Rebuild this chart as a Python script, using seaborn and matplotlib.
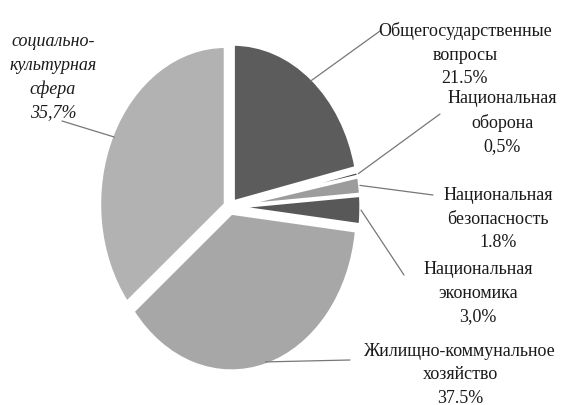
import numpy as np
import matplotlib
matplotlib.use("Agg")
import matplotlib.pyplot as plt
import seaborn as sns

# --- Data ---
categories = [
    "Общегосударственные\nвопросы",
    "Национальная\nоборона",
    "Национальная\nбезопасность",
    "Национальная\nэкономика",
    "Жилищно-коммунальное\nхозяйство",
    "социально-\nкультурная\nсфера",
]
shares = [21.5, 0.5, 1.8, 3.0, 37.5, 35.7]
share_labels = ["21.5%", "0,5%", "1.8%", "3,0%", "37.5%", "35,7%"]
colors = ["#5c5c5c", "#484848", "#9c9c9c", "#585858", "#a7a7a7", "#b2b2b2"]

# label centres (pixels, top-left origin) and where the leader line ends
label_pos = [(465, 22), (502, 90), (498, 187), (478, 261), (460, 343), (53, 33)]
line_end = [(380, 32), (440, 115), (433, 196), (404, 276), (350, 361), (62, 122)]

sns.set_theme(style="white")
plt.rcParams["font.family"] = ["Liberation Serif", "DejaVu Serif"]

W, H = 561, 406
fig = plt.figure(figsize=(W / 100, H / 100), dpi=100)
ax = fig.add_axes([0, 0, 1, 1])

wedges, _ = ax.pie(
    shares,
    colors=colors,
    startangle=90,
    counterclock=False,
    explode=[0.04] * len(shares),
    wedgeprops=dict(edgecolor="white", linewidth=2.5),
)

# the scanned pie is stretched vertically
sx, sy = 126, 158
cx, cy = 230, 208
ax.set_aspect("auto")
ax.set_xlim(-cx / sx, (W - cx) / sx)
ax.set_ylim(-(H - cy) / sy, cy / sy)
ax.axis("off")


def px(p):
    return p[0] / W, 1 - p[1] / H


for i, w in enumerate(wedges):
    ang = np.deg2rad((w.theta1 + w.theta2) / 2)
    r = 0.98 if shares[i] > 5 else 1.0
    cxw, cyw = w.center
    start = (cxw + r * np.cos(ang), cyw + r * np.sin(ang))
    ax.annotate(
        "",
        xy=start,
        xytext=px(line_end[i]),
        textcoords="axes fraction",
        arrowprops=dict(arrowstyle="-", color="#777777", lw=0.9, shrinkA=0, shrinkB=0),
    )
    italic = i == len(wedges) - 1
    ax.text(
        *px(label_pos[i]),
        categories[i] + "\n" + share_labels[i],
        transform=ax.transAxes,
        ha="center",
        va="top",
        fontsize=13,
        linespacing=1.5,
        style="italic" if italic else "normal",
        color="#1a1a1a",
    )

fig.savefig("out.png", dpi=100)
